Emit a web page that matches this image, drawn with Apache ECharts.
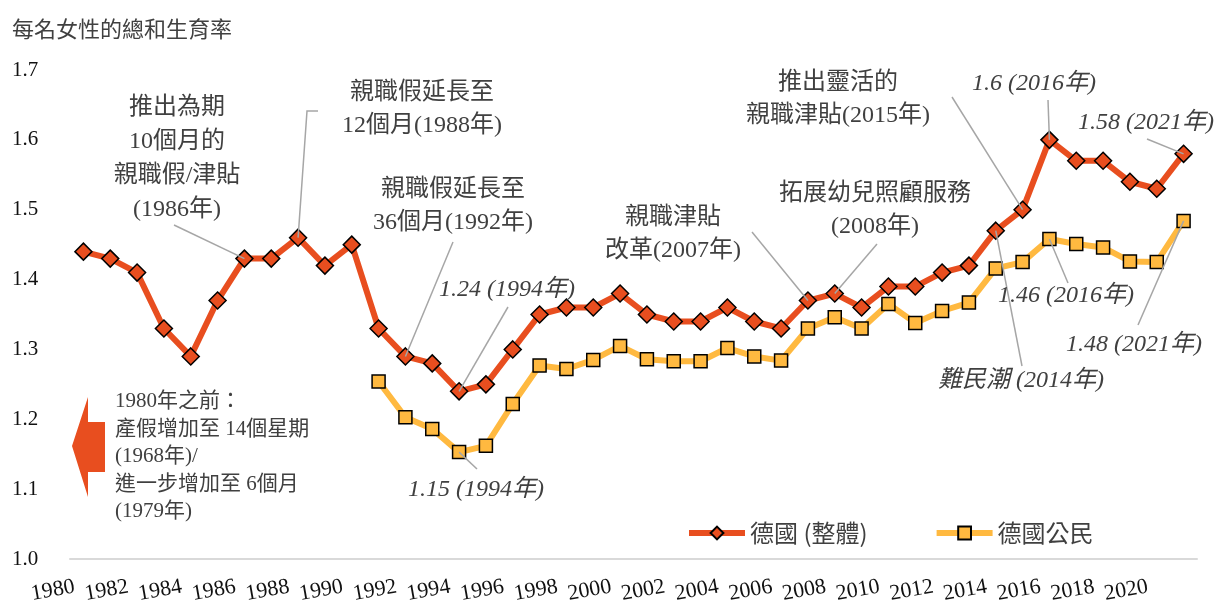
<!DOCTYPE html>
<html>
<head>
<meta charset="utf-8">
<title>德國總和生育率</title>
<script src="https://cdn.jsdelivr.net/npm/echarts@6/dist/echarts.min.js"></script>
<style>
    html, body { margin: 0; padding: 0; background: #fff; }
    #chart { width: 1223px; height: 603px; }
</style>
</head>
<body>
<div id="chart"></div>
<script>
// 年份
const years = ['1980', '1981', '1982', '1983', '1984', '1985', '1986', '1987', '1988', '1989',
    '1990', '1991', '1992', '1993', '1994', '1995', '1996', '1997', '1998', '1999',
    '2000', '2001', '2002', '2003', '2004', '2005', '2006', '2007', '2008', '2009',
    '2010', '2011', '2012', '2013', '2014', '2015', '2016', '2017', '2018', '2019',
    '2020', '2021'];
// 德國 (整體)
const totalTfr = [1.44, 1.43, 1.41, 1.33, 1.29, 1.37, 1.43, 1.43, 1.46, 1.42,
    1.45, 1.33, 1.29, 1.28, 1.24, 1.25, 1.30, 1.35, 1.36, 1.36,
    1.38, 1.35, 1.34, 1.34, 1.36, 1.34, 1.33, 1.37, 1.38, 1.36,
    1.39, 1.39, 1.41, 1.42, 1.47, 1.50, 1.60, 1.57, 1.57, 1.54,
    1.53, 1.58];
// 德國公民 (1991年起)
const citizenTfr = [null, null, null, null, null, null, null, null, null, null,
    null, 1.254, 1.203, 1.186, 1.153, 1.162, 1.222, 1.277, 1.272, 1.285,
    1.305, 1.286, 1.283, 1.283, 1.302, 1.290, 1.284, 1.330, 1.346, 1.330,
    1.365, 1.338, 1.355, 1.367, 1.416, 1.425, 1.458, 1.451, 1.446, 1.426,
    1.425, 1.484];
const seriesNames = ['德國 (整體)', '德國公民'];
const yTicks = [1.0, 1.1, 1.2, 1.3, 1.4, 1.5, 1.6, 1.7];

const RED = '#E84E1F';
const YELLOW = '#FFB940';
const TXT = '#404040';
const FONT = "'Liberation Serif', 'Noto Sans CJK TC', serif";
const SANS = "'Noto Sans CJK TC', sans-serif";

// 註解: 文字位置 + 引線 (最後一點接到數據點)
const notes = [
    { text: '推出為期\n10個月的\n親職假/津貼\n(1986年)', x: 177, y: 159, lh: 34, from: [[174, 225]], s: 0, year: '1986' },
    { text: '親職假延長至\n12個月(1988年)', x: 422, y: 109, lh: 33, from: [[318, 111], [307, 111]], s: 0, year: '1988' },
    { text: '親職假延長至\n36個月(1992年)', x: 453, y: 206, lh: 33, from: [[453, 242]], s: 0, year: '1992' },
    { text: '1.24 (1994年)', x: 507, y: 290, italic: true, from: [[508, 307]], s: 0, year: '1994' },
    { text: '1.15 (1994年)', x: 476, y: 490, italic: true, from: [[477, 469]], s: 1, year: '1994' },
    { text: '親職津貼\n改革(2007年)', x: 673, y: 234, lh: 33, from: [[752, 232]], s: 0, year: '2007' },
    { text: '拓展幼兒照顧服務\n(2008年)', x: 875, y: 210, lh: 33, from: [[877, 244]], s: 0, year: '2008' },
    { text: '推出靈活的\n親職津貼(2015年)', x: 838, y: 99, lh: 33, from: [[952, 97]], s: 0, year: '2015' },
    { text: '1.6 (2016年)', x: 1034, y: 84, italic: true, from: [[1048, 100]], s: 0, year: '2016' },
    { text: '1.58 (2021年)', x: 1146, y: 123, italic: true, from: [[1147, 139]], s: 0, year: '2021' },
    { text: '1.46 (2016年)', x: 1066, y: 296, italic: true, from: [[1068, 283]], s: 1, year: '2016' },
    { text: '1.48 (2021年)', x: 1134, y: 345, italic: true, from: [[1138, 325]], s: 1, year: '2021' },
    { text: '難民潮 (2014年)', x: 1021, y: 381, italic: true, from: [[1022, 366]], s: 0, year: '2014' }
];

const chart = echarts.init(document.getElementById('chart'));

const option = {
    animation: false,
    title: {
        text: '每名女性的總和生育率',
        left: 7,
        top: 13,
        textStyle: { fontSize: 22, fontWeight: 'normal', color: TXT, fontFamily: SANS }
    },
    legend: {
        left: 681,
        top: 516,
        itemWidth: 56,
        itemHeight: 16,
        itemGap: 66,
        data: seriesNames,
        lineStyle: { width: 6 },
        textStyle: { fontSize: 24, color: TXT, fontFamily: SANS }
    },
    grid: { left: 70, right: 26, top: 70, bottom: 44, outerBoundsMode: 'none' },
    xAxis: {
        type: 'category',
        data: years,
        boundaryGap: true,
        axisLine: { show: true, lineStyle: { color: '#D9D9D9', width: 2 } },
        axisTick: { show: false },
        axisLabel: {
            interval: 1,
            rotate: 10,
            align: 'center',
            verticalAlign: 'middle',
            margin: 26,
            padding: [0, 62, 0, 0],
            fontSize: 22,
            color: '#111',
            fontFamily: FONT
        }
    },
    yAxis: {
        type: 'value',
        min: yTicks[0],
        max: yTicks[yTicks.length - 1],
        interval: 0.1,
        axisLine: { show: false },
        axisTick: { show: false },
        splitLine: { show: false },
        axisLabel: {
            align: 'left',
            margin: 58,
            fontSize: 21,
            color: '#111',
            fontFamily: FONT,
            formatter: v => v.toFixed(1)
        }
    },
    series: [
        {
            name: seriesNames[0],
            type: 'line',
            data: totalTfr,
            symbol: 'diamond',
            symbolSize: 17,
            z: 3,
            lineStyle: { color: RED, width: 6 },
            itemStyle: { color: RED, borderColor: '#000', borderWidth: 1.5 }
        },
        {
            name: seriesNames[1],
            type: 'line',
            data: citizenTfr,
            symbol: 'rect',
            symbolSize: 13,
            z: 2,
            lineStyle: { color: YELLOW, width: 6 },
            itemStyle: { color: YELLOW, borderColor: '#000', borderWidth: 1.5 }
        }
    ]
};
chart.setOption(option);

// 註解引線和文字
const seriesData = [totalTfr, citizenTfr];
const graphics = [];
notes.forEach(n => {
    const idx = years.indexOf(n.year);
    const p = chart.convertToPixel({ seriesIndex: n.s }, [idx, seriesData[n.s][idx]]);
    graphics.push({
        type: 'polyline',
        z: 100,
        shape: { points: n.from.concat([p]) },
        style: { stroke: '#A6A6A6', lineWidth: 1.5, fill: null }
    });
    graphics.push({
        type: 'text',
        z: 101,
        style: {
            text: n.text,
            x: n.x,
            y: n.y,
            align: 'center',
            verticalAlign: 'middle',
            lineHeight: n.lh || 24,
            fill: TXT,
            fontSize: 24,
            fontStyle: n.italic ? 'italic' : 'normal',
            fontFamily: FONT
        }
    });
});

// 左方箭頭 + 1980年之前的說明
graphics.push({
    type: 'polygon',
    z: 50,
    shape: { points: [[72, 446], [88, 397], [88, 422], [105, 422], [105, 472], [88, 472], [88, 497]] },
    style: { fill: '#E84E1F' }
});
graphics.push({
    type: 'text',
    z: 50,
    style: {
        text: '1980年之前：\n產假增加至 14個星期\n(1968年)/\n進一步增加至 6個月\n(1979年)',
        x: 115,
        y: 388,
        align: 'left',
        verticalAlign: 'top',
        lineHeight: 27.5,
        fill: TXT,
        fontSize: 21,
        fontFamily: FONT
    }
});

chart.setOption({ graphic: graphics });
</script>
</body>
</html>
